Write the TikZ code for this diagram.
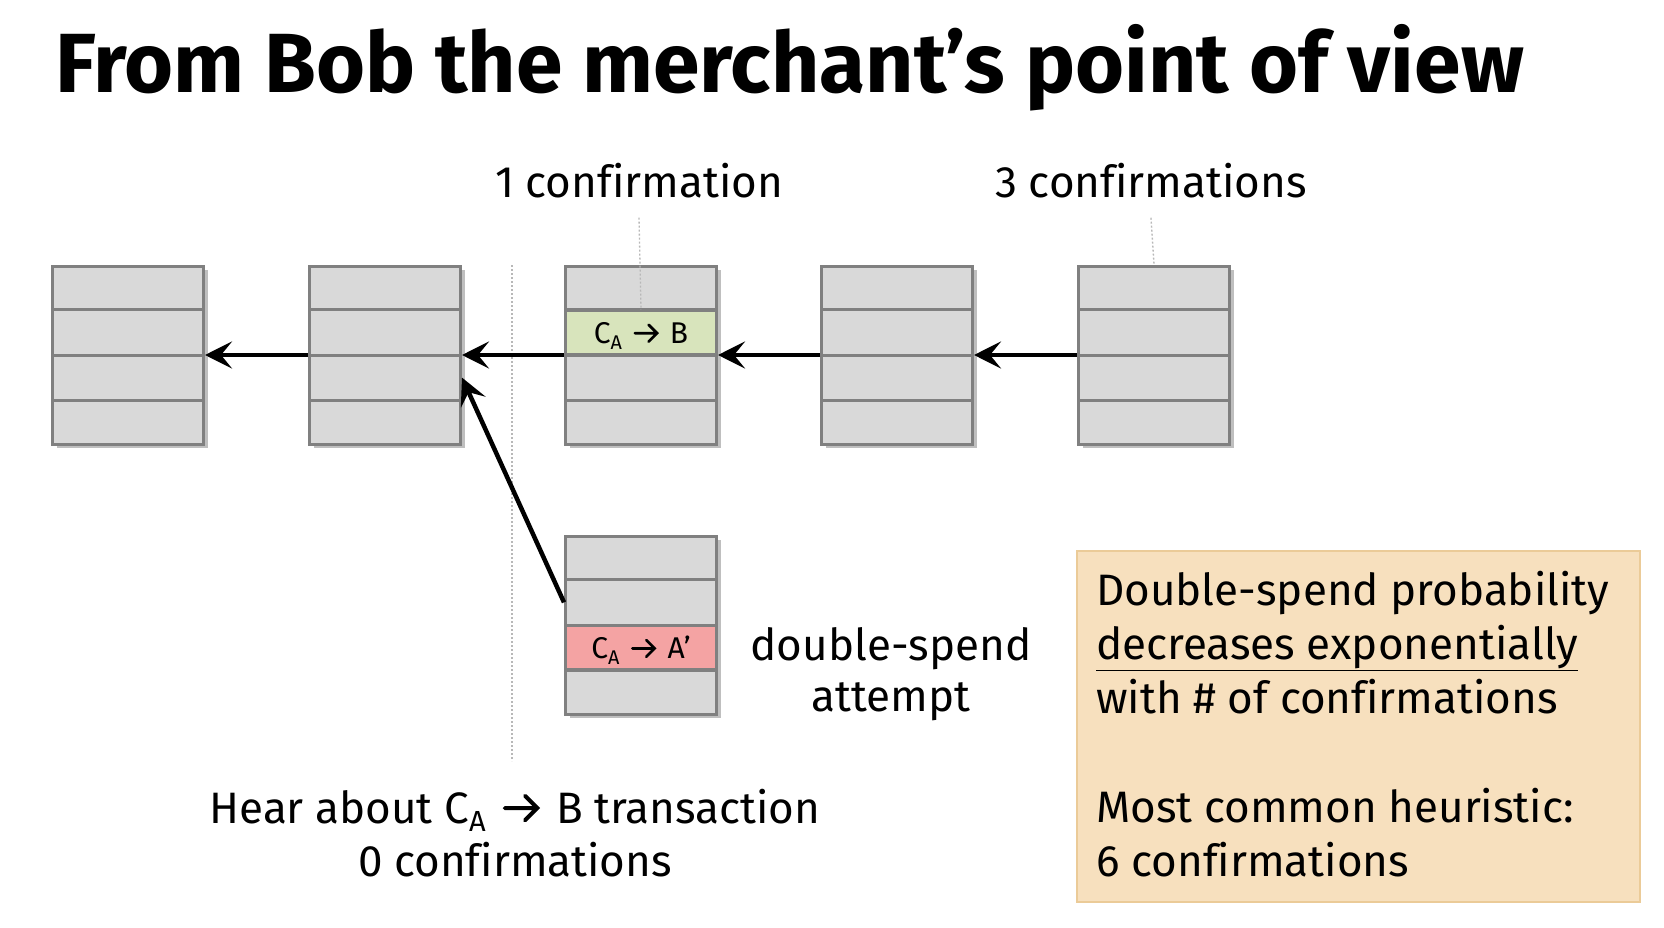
\documentclass[tikz,border=0pt]{standalone}
\usepackage{fontspec}
\setmainfont{Fira Sans}[Ligatures=CommonOff]
\usetikzlibrary{arrows.meta,shadows,calc}
\definecolor{blockfill}{HTML}{D9D9D9}
\definecolor{blockline}{HTML}{808080}
\definecolor{txgreen}{HTML}{D8E4BC}
\definecolor{txred}{HTML}{F4A3A3}
\definecolor{notefill}{HTML}{F7E0BE}
\definecolor{noteline}{HTML}{EBCB98}
\definecolor{guidegray}{HTML}{B8B8B8}
\tikzset{
  chainblock/.style={draw=blockline, line width=3pt, fill=blockfill, minimum width=151pt, minimum height=178pt, inner sep=0pt,
     drop shadow={shadow xshift=4pt, shadow yshift=-4pt, opacity=0.25, fill=black}},
  divider/.style={draw=blockline, line width=3pt},
  txrow/.style={draw=blockline, line width=3pt, minimum width=151pt, minimum height=44.5pt, inner sep=0pt, font=\fontsize{30}{30}\selectfont},
  conn/.style={line width=4.5pt, -{Stealth[length=27pt,width=27pt,inset=11pt]}},
  guide/.style={draw=guidegray, line width=1.3pt, dash pattern=on 2pt off 2pt},
  lbl/.style={inner sep=0pt, font=\fontsize{44}{54}\selectfont},
  notetext/.style={inner sep=0pt, anchor=base west, font=\fontsize{44}{54}\selectfont},
}
\newcommand\chainrows[1]{%
  \foreach \f in {0.25,0.5,0.75}
    \draw[divider] ($(#1.north west)!\f!(#1.south west)$) -- ($(#1.north east)!\f!(#1.south east)$);}
\newcommand\subA{\raisebox{-0.2em}{\fontsize{0.66em}{0.66em}\selectfont A}}
\newcommand\txarrow{\hspace{0.12em}\tikz[baseline=0pt]{\draw[line width=0.09em, line cap=round, line join=miter]
   (0,0.34em) -- (0.74em,0.34em) (0.46em,0.62em) -- (0.74em,0.34em) -- (0.46em,0.06em);}\hspace{0.12em}}
\begin{document}
\begin{tikzpicture}[x=1pt,y=-1pt]
\useasboundingbox[fill=white] (0,0) rectangle (1664,928);

% title
\node[anchor=base west, inner sep=0pt, font=\fontsize{84}{84}\selectfont\bfseries] (title) at (55,93) {From Bob the merchant’s point of view};

% vertical guide
\coordinate (gtop) at (512,265);
\coordinate (gbot) at (512,761);
\draw[guide] (gtop) -- (gbot);

% blocks
\node[chainblock] (B1) at (128,355) {};
\node[chainblock] (B2) at (385,355) {};
\node[chainblock] (B3) at (641,355) {};
\node[chainblock] (B4) at (897,355) {};
\node[chainblock] (B5) at (1154,355) {};
\node[chainblock] (B6) at (641,625) {};
\chainrows{B1}\chainrows{B2}\chainrows{B3}\chainrows{B4}\chainrows{B5}\chainrows{B6}

\node[txrow, fill=txgreen] (txB) at ($(B3.north)!0.375!(B3.south)$) {};
\node[inner sep=0pt, anchor=base, font=\fontsize{30}{30}\selectfont] (txBl) at ([yshift=-11pt]txB.center) {C\subA{} \txarrow{} B};
\node[txrow, fill=txred] (txA) at ($(B6.north)!0.625!(B6.south)$) {};
\node[inner sep=0pt, anchor=base, font=\fontsize{30}{30}\selectfont] (txAl) at ([yshift=-11pt]txA.center) {C\subA{} \txarrow{} A’};

% labels
\node[lbl, anchor=base] (c1) at (639,197) {1 confirmation};
\node[lbl, anchor=base] (c3) at (1151,197) {3 confirmations};
\coordinate (c1end) at ($(B3.north)!0.25!(B3.south)$);
\draw[guide] ([yshift=-20pt]c1.south) -- (c1end);
\draw[guide] ([yshift=-20pt]c3.south) -- (B5.north);

\node[lbl, anchor=base] (ds1) at (891,660) {double-spend};
\node[lbl, anchor=base] (ds2) at (891,711) {attempt};
\node[lbl, anchor=base] (h1) at (515,823) {Hear about C\subA{} \txarrow{} B transaction};
\node[lbl, anchor=base] (h2) at (515,876) {0 confirmations};

% connectors
\draw[conn] (B2.west) -- (B1.east);
\draw[conn] (B3.west) -- (B2.east);
\draw[conn] (B4.west) -- (B3.east);
\draw[conn] (B5.west) -- (B4.east);
\coordinate (dsstart) at ($(B6.north west)!0.375!(B6.south west)$);
\coordinate (dsend) at ($(B2.north east)!0.625!(B2.south east)$);
\draw[conn] (dsstart) -- (dsend);

% note box
\node[draw=noteline, fill=notefill, line width=2pt, minimum width=563pt, minimum height=351pt, inner sep=0pt] (note) at (1358.5,726.5) {};
\node[notetext] (n1) at (1096,605) {Double-spend probability};
\node[notetext] (n2) at (1096,659) {\underline{decreases exponentially}};
\node[notetext] (n3) at (1096,713) {with \# of confirmations};
\node[notetext] (n4) at (1096,822) {Most common heuristic:};
\node[notetext] (n5) at (1096,876) {6 confirmations};
\end{tikzpicture}
\end{document}
